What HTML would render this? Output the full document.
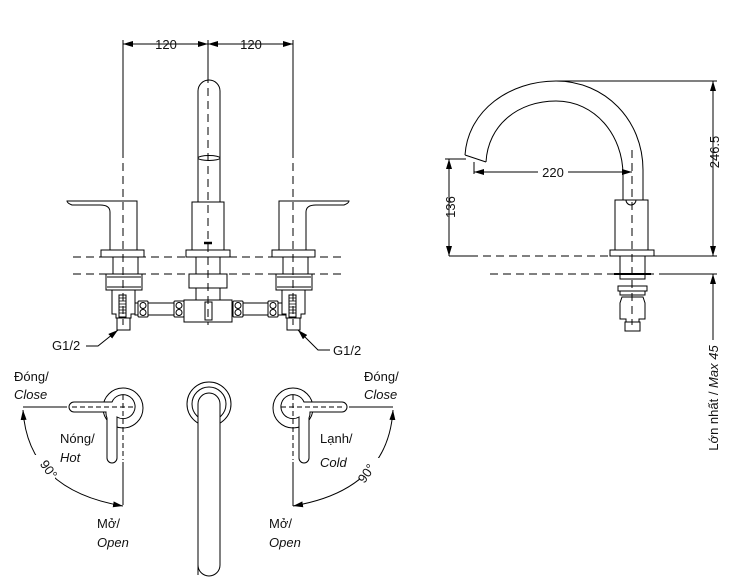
<!DOCTYPE html>
<html><head><meta charset="utf-8"><style>
html,body{margin:0;padding:0;background:#fff;}
svg{display:block;}
text{font-family:"Liberation Sans","DejaVu Sans",sans-serif;fill:#111;}
</style></head><body>
<svg width="743" height="581" viewBox="0 0 743 581" xmlns="http://www.w3.org/2000/svg">
<defs>
<marker id="a" viewBox="0 0 10 6" refX="10" refY="3" markerWidth="10" markerHeight="6" orient="auto-start-reverse" markerUnits="userSpaceOnUse"><path d="M0,0 L10,3 L0,6 z" fill="#000"/></marker>
<g id="hbase" fill="#fff" stroke="#000" stroke-width="1">
  <rect x="5" y="0" width="25" height="17"/>
  <rect x="-2" y="17" width="36" height="16"/>
  <line x1="-1" y1="20" x2="33" y2="20"/>
  <line x1="-1" y1="30" x2="33" y2="30"/>
  <path d="M4,33 h23 v24 h-4 v4 h-15 v-4 h-4 z"/>
  <rect x="9" y="61" width="13" height="12"/>
  <rect x="11" y="38" width="7" height="22"/>
  <path d="M11,41h7M11,44h7M11,47h7M11,50h7M11,53h7M11,56h7" stroke-width="0.8"/>
</g>
<g id="fit" fill="#fff" stroke="#000" stroke-width="1">
  <rect x="0" y="0" width="10" height="16" rx="1"/>
  <circle cx="5" cy="4.5" r="3"/><circle cx="5" cy="11.5" r="3"/>
</g>
</defs>
<g fill="none" stroke="#000" stroke-width="1">
<line x1="123" y1="44" x2="293" y2="44"/>
<line x1="123" y1="44" x2="160" y2="44" marker-start="url(#a)"/>
<line x1="175" y1="44" x2="208" y2="44" marker-end="url(#a)"/>
<line x1="208" y1="44" x2="240" y2="44" marker-start="url(#a)"/>
<line x1="260" y1="44" x2="293" y2="44" marker-end="url(#a)"/>
<line x1="123" y1="40" x2="123" y2="150"/>
<line x1="293" y1="40" x2="293" y2="150"/>
<line x1="208" y1="40" x2="208" y2="75"/>
<path d="M198,202 V91 a11,11 0 0 1 22,0 V202" fill="#fff"/>
<ellipse cx="209" cy="158" rx="11" ry="2.5"/>
<rect x="192" y="202" width="32" height="48" fill="#fff"/>
<line x1="204" y1="243" x2="212" y2="243" stroke-width="2.5"/>
<rect x="186" y="250" width="44" height="7" fill="#fff"/>
<path d="M110,250 V212 Q110,205 100,205 L72,205 Q67,203 67,201 L137,201 V250 Z" fill="#fff"/>
<rect x="101" y="250" width="43" height="7" fill="#fff"/>
<path d="M306,250 V212 Q306,205 316,205 L344,205 Q349,203 349,201 L279,201 V250 Z" fill="#fff"/>
<rect x="272" y="250" width="43" height="7" fill="#fff"/>
<rect x="135" y="303" width="155" height="12" fill="#fff"/>
<use href="#hbase" x="108" y="257"/>
<use href="#hbase" x="278" y="257"/>
<rect x="196" y="257" width="24" height="17" fill="#fff"/>
<rect x="189" y="274" width="38" height="14" fill="#fff"/>
<rect x="196" y="288" width="24" height="12" fill="#fff"/>
<rect x="184" y="300" width="48" height="22" fill="#fff"/>
<rect x="205" y="302" width="7" height="18" fill="#fff"/>
<use href="#fit" x="138" y="301"/>
<use href="#fit" x="174" y="301"/>
<use href="#fit" x="233" y="301"/>
<use href="#fit" x="268" y="301"/>
<g stroke-dasharray="8,5">
<line x1="123" y1="150" x2="123" y2="325"/>
<line x1="293" y1="150" x2="293" y2="325"/>
<line x1="208" y1="75" x2="208" y2="325"/>
<line x1="73" y1="257" x2="345" y2="257"/>
<line x1="73" y1="274" x2="345" y2="274"/>
</g>
<polyline points="86,346 98,346 118,330" marker-end="url(#a)"/>
<polyline points="330,350 318,350 298,330" marker-end="url(#a)"/>
</g>
<text x="52" y="350" font-size="13">G1/2</text>
<text x="333" y="355" font-size="13">G1/2</text>
<text x="166" y="49" font-size="13" text-anchor="middle">120</text>
<text x="251" y="49" font-size="13" text-anchor="middle">120</text>

<g fill="none" stroke="#000" stroke-width="1">
<path d="M465,155 C468,110 510,81 556,81 C605,81 643,120 643,170 V200"/>
<path d="M486,162 C488,125 518,101 556,101 C595,101 623,135 623,175 V200"/>
<line x1="465" y1="155" x2="486" y2="162"/>
<rect x="615" y="200" width="33" height="50" fill="#fff"/>
<path d="M626,200 a5,5 0 0 0 10,0"/>
<rect x="610" y="250" width="44" height="6" fill="#fff"/>
<rect x="620" y="256" width="25" height="23" fill="#fff"/>
<line x1="614" y1="274" x2="651" y2="274" stroke-width="2"/>
<rect x="618" y="286" width="29" height="5" fill="#fff"/>
<rect x="620" y="291" width="25" height="4" fill="#fff"/>
<path d="M622,297 h21 l2,6 v16 h-6 v3 h-13 v-3 h-6 v-16 z" fill="#fff"/>
<rect x="625" y="322" width="15" height="9" fill="#fff"/>
<g stroke-dasharray="8,5">
<line x1="632" y1="150" x2="632" y2="325"/>
<line x1="470" y1="256" x2="610" y2="256"/>
<line x1="490" y1="274" x2="660" y2="274"/>
</g>
<line x1="449" y1="256" x2="470" y2="256"/>
<line x1="654" y1="256" x2="717" y2="256"/>
<line x1="660" y1="274" x2="717" y2="274"/>
<line x1="556" y1="81" x2="717" y2="81"/>
<line x1="445" y1="159" x2="466" y2="159"/>
<line x1="449" y1="159" x2="449" y2="256" marker-start="url(#a)" marker-end="url(#a)"/>
<line x1="713" y1="81" x2="713" y2="256" marker-start="url(#a)" marker-end="url(#a)"/>
<line x1="713" y1="274" x2="713" y2="340" marker-start="url(#a)"/>
<line x1="474" y1="162" x2="474" y2="174"/>
<line x1="474" y1="172" x2="632" y2="172" marker-start="url(#a)" marker-end="url(#a)"/>
</g>
<rect x="538" y="165" width="30" height="12" fill="#fff"/>
<text x="553" y="177" font-size="13" text-anchor="middle">220</text>
<text transform="translate(455,207) rotate(-90)" font-size="13" text-anchor="middle">136</text>
<text transform="translate(719,152) rotate(-90)" font-size="13" text-anchor="middle">246.5</text>
<text transform="translate(718,398) rotate(-90)" font-size="13" text-anchor="middle">Lớn nhất / <tspan font-style="italic">Max 45</tspan></text>

<g fill="none" stroke="#000" stroke-width="1">
<circle cx="123" cy="408" r="20"/>
<path d="M74,402 H112 a12,12 0 1 1 5,15 V458 a5,5 0 0 1 -10,0 V418 a12,12 0 0 1 -1,-6 H74 a5,5 0 0 1 0,-10 z" fill="#fff"/>
<g stroke-dasharray="5,3"><line x1="72" y1="407" x2="135" y2="407"/><line x1="123" y1="395" x2="123" y2="460"/></g>
<line x1="123" y1="462" x2="123" y2="505"/>
<line x1="23" y1="407" x2="67" y2="407"/>
<path d="M23,410 Q28,490 123,506" marker-start="url(#a)" marker-end="url(#a)"/>
<circle cx="293" cy="408" r="20"/>
<path d="M342,402 H304 a12,12 0 1 0 -5,15 V458 a5,5 0 0 0 10,0 V418 a12,12 0 0 0 1,-6 H342 a5,5 0 0 0 0,-10 z" fill="#fff"/>
<g stroke-dasharray="5,3"><line x1="281" y1="407" x2="344" y2="407"/><line x1="293" y1="395" x2="293" y2="460"/></g>
<line x1="293" y1="462" x2="293" y2="506"/>
<line x1="349" y1="407" x2="393" y2="407"/>
<path d="M393,410 Q388,490 293,506" marker-start="url(#a)" marker-end="url(#a)"/>
<circle cx="209" cy="404" r="22"/>
<circle cx="209" cy="404" r="17"/>
<path d="M198,575 V404 a11,11 0 0 1 22,0 V565 a11,11 0 0 1 -22,0" fill="#fff"/>
</g>
<rect x="33" y="455" width="22" height="24" fill="#fff"/>
<text transform="translate(45,472) rotate(55)" font-size="13" text-anchor="middle">90°</text>
<rect x="360" y="458" width="22" height="24" fill="#fff"/>
<text transform="translate(370,476) rotate(-55)" font-size="13" text-anchor="middle">90°</text>
<g font-size="13">
<text x="14" y="381">Đóng/</text><text x="14" y="399" font-style="italic">Close</text>
<text x="60" y="443">Nóng/</text><text x="60" y="462" font-style="italic">Hot</text>
<text x="97" y="528">Mở/</text><text x="97" y="547" font-style="italic">Open</text>
<text x="364" y="381">Đóng/</text><text x="364" y="399" font-style="italic">Close</text>
<text x="320" y="443">Lạnh/</text><text x="320" y="467" font-style="italic">Cold</text>
<text x="269" y="528">Mở/</text><text x="269" y="547" font-style="italic">Open</text>
</g>
</svg>
</body></html>
